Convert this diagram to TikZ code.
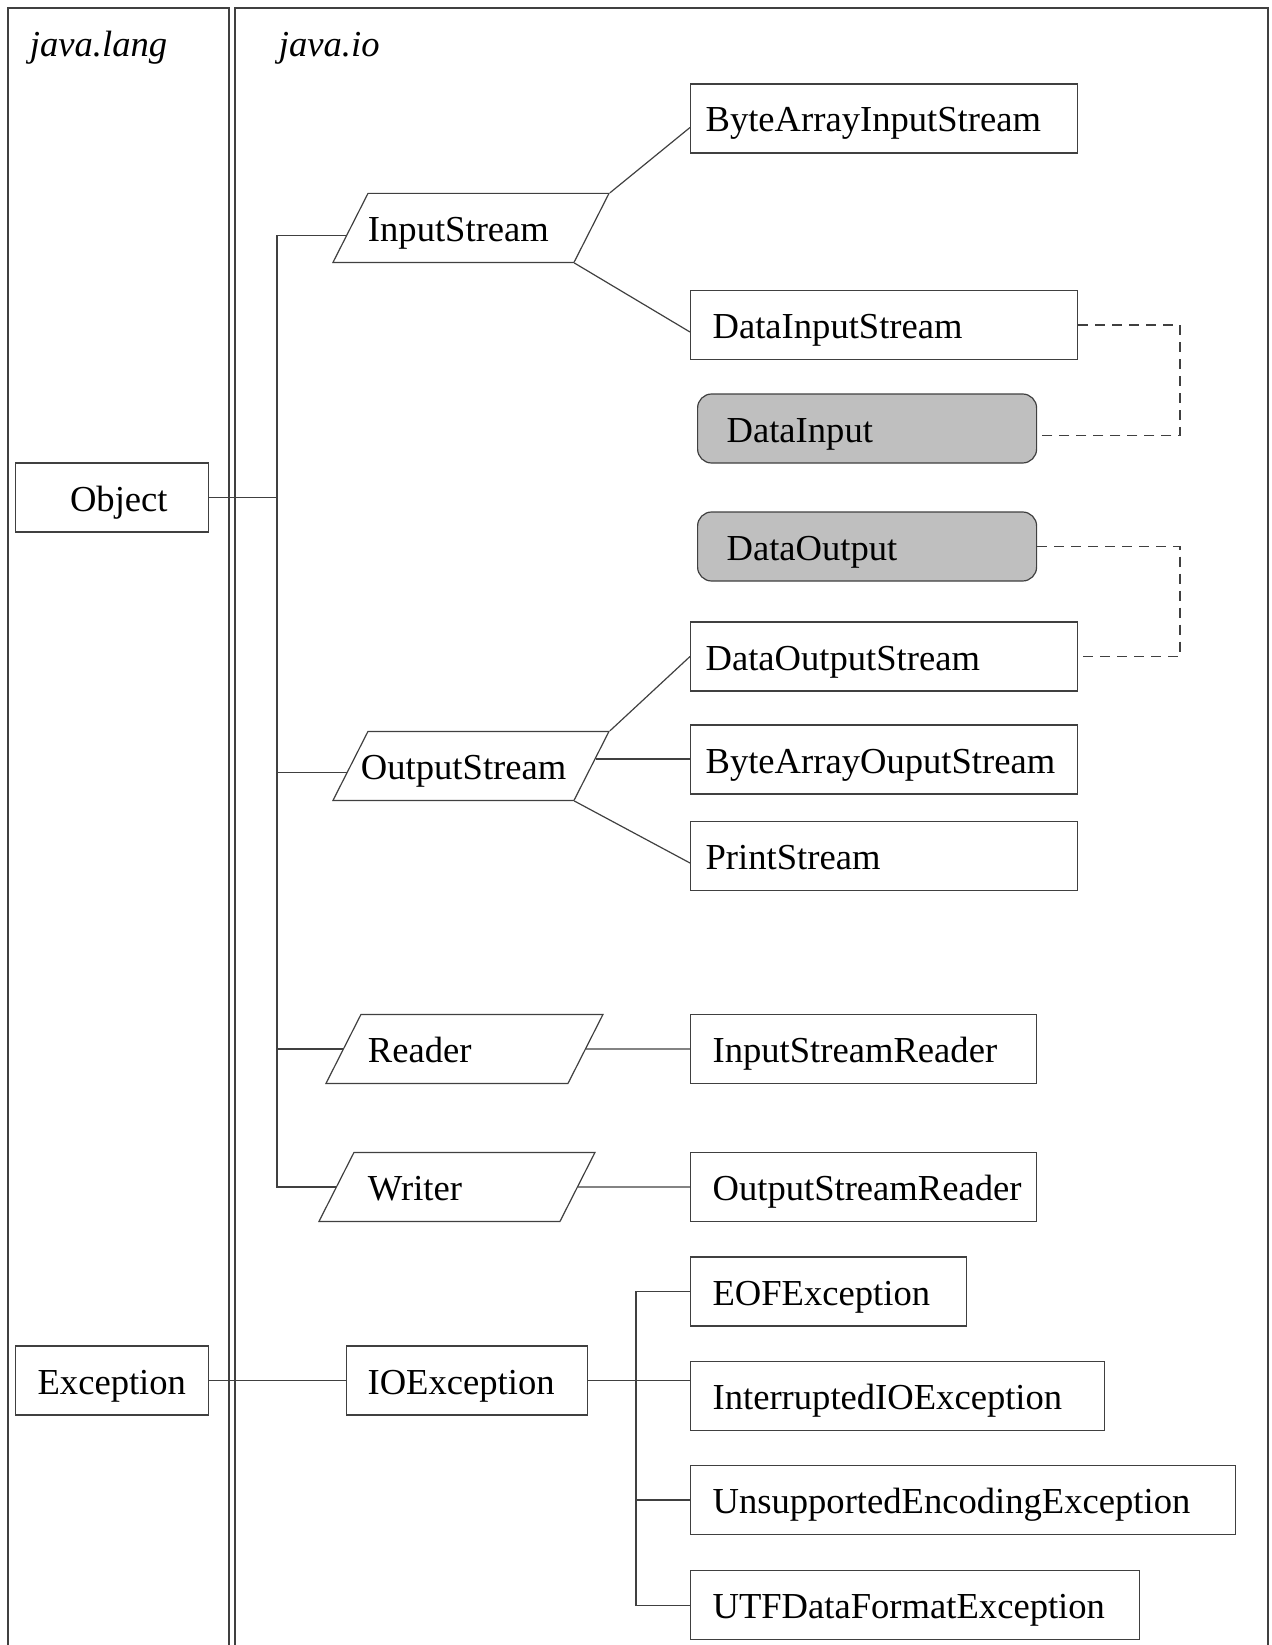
\documentclass[tikz,border=0pt]{standalone}
\usepackage{fontspec}
\setmainfont{Liberation Serif}
\usetikzlibrary{positioning}
\usetikzlibrary{shapes.geometric}

\definecolor{lc}{gray}{0.25}
\definecolor{ifcol}{gray}{0.75}

\begin{document}
\begin{tikzpicture}[x=1pt,y=-1pt,line width=1.2pt,
	font=\fontsize{36.6}{44}\selectfont,
	cls/.style 2 args={draw=lc,rectangle,text height=30pt,text depth=3pt,inner ysep=18pt,inner xsep=#2,text width=#1,align=left,anchor=west},
	ifc/.style 2 args={cls={#1}{#2},rounded corners=14pt,fill=ifcol},
	abs/.style 2 args={draw=lc,trapezium,trapezium left angle=63.1,trapezium right angle=116.9,text height=30pt,text depth=3pt,inner ysep=18pt,inner xsep=#2,text width=#1,align=left,anchor=bottom left corner},
	link/.style={draw=lc},
	impl/.style={draw=lc,dash pattern=on 10pt off 7pt},
	pkg/.style={font=\fontsize{36.6}{44}\selectfont\itshape,anchor=base west},
	frame/.style={draw=lc,line width=1.4pt}]
	\useasboundingbox (0,0) rectangle (1271,1645);
	%% packages
	\draw[frame] (8,1645) |- (229,8) -- (229,1645);
	\draw[frame] (235,1645) |- (1268,8) -- (1268,1645);
	\node[pkg] (jl) at (26,57) {java.lang};
	\node[pkg] (jio) at (275,57) {java.io};
	%% java.lang
	\node[cls={111pt}{41pt},align=right] (obj) at (15,497.5) {Object};
	\node[cls={149pt}{22pt}] (exc) at (15,1380.5) {Exception};
	%% java.io
	\node[abs={206pt}{0pt}] (is) at (332,263) {InputStream};
	\node[abs={220pt}{-7pt}] (os) at (332,801) {OutputStream};
	\node[abs={193pt}{7pt}] (rd) at (325,1084) {Reader};
	\node[abs={178pt}{14pt}] (wr) at (318,1222) {Writer};
	\node[cls={199pt}{21pt}] (ioe) at (346,1380.5) {IOException};
	\node[cls={357pt}{15pt}] (bais) at (690,118.5) {ByteArrayInputStream};
	\node[cls={343pt}{22pt}] (dis) at (690,325) {DataInputStream};
	\node[ifc={281pt}{29pt}] (din) at (697,428.5) {DataInput};
	\node[ifc={281pt}{29pt}] (dout) at (697,546.5) {DataOutput};
	\node[cls={357pt}{15pt}] (dos) at (690,656.5) {DataOutputStream};
	\node[cls={357pt}{15pt}] (baos) at (690,759.5) {ByteArrayOuputStream};
	\node[cls={357pt}{15pt}] (ps) at (690,856) {PrintStream};
	\node[cls={302pt}{22pt}] (isr) at (690,1049) {InputStreamReader};
	\node[cls={302pt}{22pt}] (osr) at (690,1187) {OutputStreamReader};
	\node[cls={232pt}{22pt}] (eof) at (690,1291.5) {EOFException};
	\node[cls={370pt}{22pt},below=34pt of eof.south west,anchor=north west] (iio) {InterruptedIOException};
	\node[cls={501pt}{22pt},below=34pt of iio.south west,anchor=north west] (uee) {UnsupportedEncodingException};
	\node[cls={405pt}{22pt},below=35pt of uee.south west,anchor=north west] (utf) {UTFDataFormatException};
	% trunk lines
	\coordinate (tk) at (277,0);
	\coordinate (ek) at (636,0);
	\coordinate (dk) at (1180,0);
	\coordinate (isin) at ([xshift=-3.8pt,yshift=-7.5pt]is.west);
	\coordinate (osin) at ([xshift=-3.3pt,yshift=-6.5pt]os.west);
	\coordinate (osout) at ([xshift=3.5pt,yshift=7pt]os.east);
	\draw[link] (isin) -- (isin -| tk) -- (wr.west -| tk) -- (wr.west);
	\draw[link] (obj.east) -- (obj.east -| tk);
	\draw[link] (osin) -- (osin -| tk);
	\draw[link] (rd.west) -- (rd.west -| tk);
	% subclasses
	\draw[link] (is.top right corner) -- ([yshift=-9pt]bais.west);
	\draw[link] (is.bottom right corner) -- ([yshift=-7pt]dis.west);
	\draw[link] (os.top right corner) -- (dos.west);
	\draw[link] (osout) -- (osout -| baos.west);
	\draw[link] (os.bottom right corner) -- ([yshift=-7pt]ps.west);
	\draw[link] (rd.east) -- (isr.west);
	\draw[link] (wr.east) -- (osr.west);
	% exceptions
	\draw[link] (exc.east) -- (ioe.west);
	\draw[link] (ioe.east) -- (ioe.east -| iio.west);
	\draw[link] (eof.west) -- (eof.west -| ek) -- (utf.west -| ek) -- (utf.west);
	\draw[link] (uee.west -| ek) -- (uee.west);
	% interfaces
	\draw[impl] (dis.east) -- (dis.east -| dk) |- ([yshift=-7pt]din.east);
	\draw[impl] (dout.east) -- (dout.east -| dk) |- (dos.east);
\end{tikzpicture}
\end{document}
